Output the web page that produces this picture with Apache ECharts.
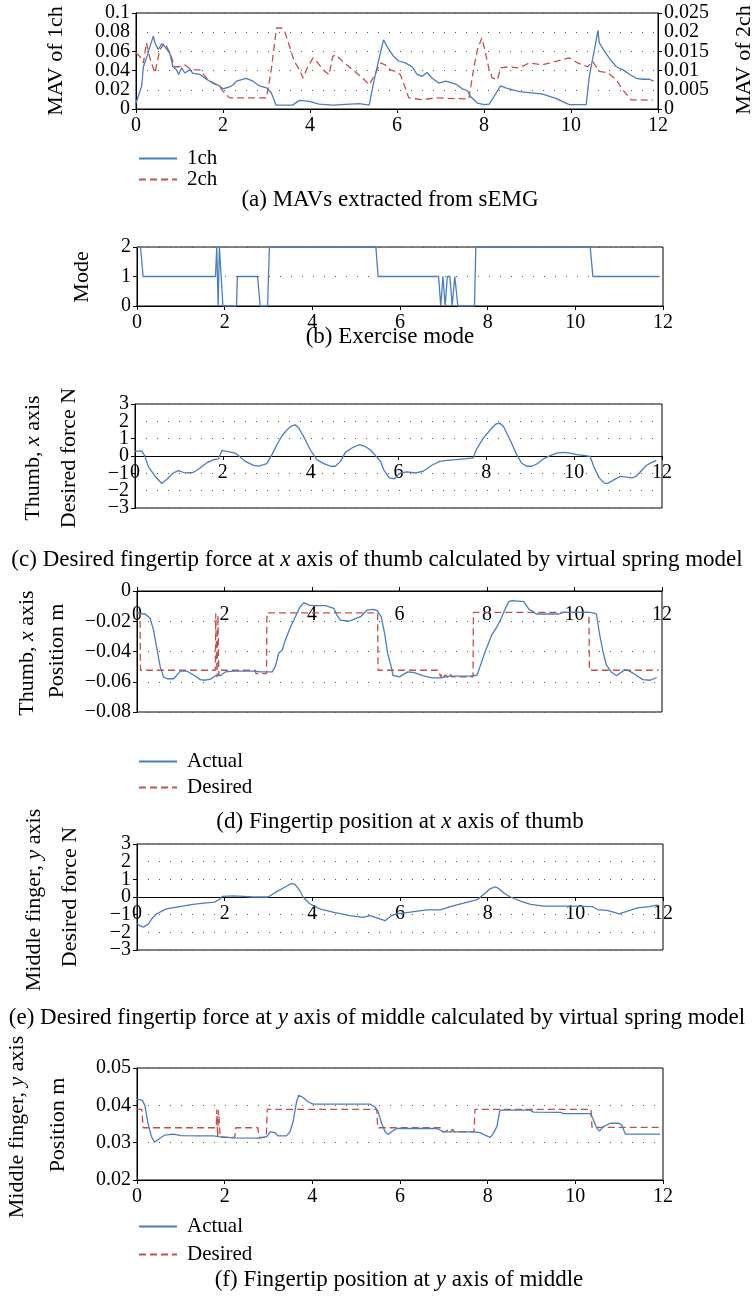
<!DOCTYPE html>
<html>
<head>
<meta charset="utf-8">
<script src="https://cdn.jsdelivr.net/npm/echarts@6/dist/echarts.min.js"></script>
<style>
html,body{margin:0;padding:0;background:#fff;}
#chart{width:755px;height:1297px;}
</style>
</head>
<body>
<div id="chart"></div>
<script>
// (a) MAV of channel 1 (left axis) and channel 2 (right axis)
var mav1ch = [[0,0.006],[0.05,0.013],[0.13,0.024],[0.17,0.044],[0.24,0.053],[0.32,0.065],[0.40,0.076],[0.435,0.069],[0.51,0.062],[0.59,0.068],[0.66,0.065],[0.70,0.067],[0.78,0.058],[0.85,0.044],[0.93,0.041],[0.98,0.036],[1.05,0.043],[1.12,0.0375],[1.24,0.041],[1.31,0.037],[1.47,0.036],[1.62,0.031],[1.77,0.027],[1.92,0.024],[2.0,0.021],[2.15,0.023],[2.23,0.025],[2.31,0.029],[2.53,0.032],[2.69,0.029],[2.84,0.024],[3.0,0.022],[3.11,0.017],[3.22,0.004],[3.6,0.004],[3.76,0.009],[3.98,0.008],[4.21,0.005],[4.52,0.004],[5.13,0.0055],[5.36,0.004],[5.46,0.027],[5.58,0.051],[5.69,0.072],[5.73,0.070],[5.81,0.062],[5.85,0.064],[5.92,0.055],[6.04,0.050],[6.19,0.048],[6.35,0.044],[6.46,0.036],[6.58,0.034],[6.69,0.038],[6.81,0.032],[6.96,0.027],[7.12,0.029],[7.35,0.026],[7.5,0.021],[7.62,0.019],[7.69,0.013],[7.85,0.006],[8.0,0.0045],[8.12,0.005],[8.23,0.013],[8.38,0.024],[8.5,0.022],[8.58,0.021],[8.81,0.018],[9.04,0.017],[9.35,0.0156],[9.65,0.011],[9.96,0.0045],[10.35,0.0045],[10.42,0.034],[10.54,0.062],[10.62,0.082],[10.65,0.069],[10.77,0.060],[10.88,0.053],[11.04,0.044],[11.19,0.041],[11.35,0.036],[11.5,0.032],[11.65,0.031],[11.8,0.031],[11.9,0.029]];
var mav2ch = [[0,0.0146],[0.09,0.0137],[0.17,0.012],[0.24,0.0172],[0.32,0.0133],[0.435,0.0094],[0.55,0.0155],[0.66,0.0172],[0.78,0.0146],[0.89,0.011],[1.0,0.011],[1.12,0.0115],[1.27,0.0102],[1.47,0.0102],[1.62,0.0081],[1.77,0.0068],[1.92,0.0059],[2.0,0.0046],[2.15,0.0029],[3.0,0.0029],[3.11,0.0102],[3.23,0.0211],[3.34,0.0211],[3.42,0.0202],[3.53,0.0163],[3.64,0.0124],[3.76,0.0102],[3.84,0.0081],[3.95,0.0111],[4.07,0.0133],[4.18,0.012],[4.3,0.0102],[4.44,0.0089],[4.52,0.0137],[4.6,0.0141],[4.75,0.0124],[4.98,0.0102],[5.21,0.0081],[5.36,0.0063],[5.47,0.0085],[5.62,0.012],[5.73,0.0115],[5.85,0.0102],[5.96,0.0098],[6.08,0.0089],[6.15,0.0068],[6.27,0.0029],[6.58,0.0024],[6.88,0.0029],[7.65,0.0026],[7.77,0.011],[7.85,0.0155],[7.95,0.0185],[8.0,0.0163],[8.12,0.0102],[8.19,0.0081],[8.31,0.0076],[8.38,0.0107],[8.58,0.011],[8.81,0.0107],[9.04,0.012],[9.35,0.0115],[9.65,0.0124],[9.96,0.0133],[10.15,0.012],[10.38,0.011],[10.5,0.0124],[10.65,0.0098],[10.85,0.0094],[11.04,0.0076],[11.19,0.005],[11.38,0.0024],[11.88,0.0023]];

// (b) exercise mode
var modeData = [[0,2],[0.08,2],[0.14,1],[1.79,1],[1.82,2],[1.85,0],[1.88,2],[1.92,2],[1.96,0],[2.27,0],[2.29,1],[2.75,1],[2.81,0],[2.98,0],[3.02,2],[5.45,2],[5.5,1],[6.88,1],[6.93,0],[6.98,1],[7.03,0],[7.08,1],[7.14,1],[7.19,0],[7.25,1],[7.28,1],[7.32,0],[7.7,0],[7.73,2],[10.34,2],[10.4,1],[11.92,1]];

// (c) desired force, thumb x axis
var forceThumb = [[0,0.27],[0.15,0.3],[0.23,-0.02],[0.3,-0.6],[0.46,-1.17],[0.61,-1.59],[0.72,-1.36],[0.87,-0.98],[0.99,-0.84],[1.14,-0.98],[1.33,-0.94],[1.48,-0.69],[1.63,-0.4],[1.79,-0.21],[1.9,-0.17],[1.98,0.33],[2.09,0.27],[2.28,0.17],[2.36,0.02],[2.51,-0.31],[2.7,-0.54],[2.81,-0.59],[2.93,-0.5],[3.0,-0.44],[3.12,0.08],[3.23,0.65],[3.35,1.17],[3.46,1.51],[3.57,1.74],[3.65,1.8],[3.73,1.6],[3.84,1.13],[3.99,0.36],[4.14,-0.21],[4.3,-0.44],[4.45,-0.59],[4.56,-0.59],[4.68,-0.31],[4.79,0.21],[4.94,0.46],[5.1,0.65],[5.21,0.59],[5.36,0.36],[5.5,-0.05],[5.59,-0.3],[5.66,-0.78],[5.79,-1.26],[5.91,-1.32],[6.02,-1.01],[6.18,-0.92],[6.4,-0.98],[6.56,-0.88],[6.75,-0.55],[6.94,-0.31],[7.09,-0.25],[7.32,-0.21],[7.55,-0.15],[7.7,-0.11],[7.77,0.36],[7.93,1.03],[8.09,1.51],[8.22,1.85],[8.31,1.89],[8.39,1.7],[8.54,0.94],[8.69,0.08],[8.8,-0.4],[8.92,-0.59],[9.03,-0.59],[9.15,-0.46],[9.3,-0.17],[9.45,0.02],[9.6,0.17],[9.75,0.21],[9.91,0.17],[10.06,0.08],[10.25,0.02],[10.36,-0.02],[10.46,-0.69],[10.57,-1.26],[10.68,-1.55],[10.76,-1.59],[10.91,-1.36],[11.06,-1.17],[11.18,-1.22],[11.33,-1.26],[11.41,-1.17],[11.52,-0.88],[11.64,-0.55],[11.75,-0.4],[11.87,-0.25]];

// (d) fingertip position, thumb x axis
var thumbActual = [[0,-0.0148],[0.19,-0.0152],[0.3,-0.018],[0.38,-0.026],[0.46,-0.039],[0.53,-0.05],[0.61,-0.057],[0.69,-0.058],[0.84,-0.058],[0.99,-0.053],[1.14,-0.053],[1.3,-0.0557],[1.45,-0.0586],[1.56,-0.059],[1.68,-0.0583],[1.79,-0.056],[1.9,-0.056],[2.02,-0.0535],[2.21,-0.053],[2.67,-0.053],[2.82,-0.0535],[3.09,-0.0535],[3.16,-0.050],[3.24,-0.041],[3.32,-0.039],[3.39,-0.0325],[3.51,-0.0236],[3.62,-0.017],[3.73,-0.0104],[3.81,-0.0077],[3.93,-0.0093],[4.04,-0.0097],[4.31,-0.0097],[4.5,-0.0115],[4.57,-0.016],[4.65,-0.0192],[4.84,-0.02],[4.95,-0.0188],[5.11,-0.017],[5.26,-0.0126],[5.41,-0.0122],[5.49,-0.013],[5.58,-0.017],[5.66,-0.028],[5.73,-0.0413],[5.81,-0.05],[5.85,-0.0557],[6.0,-0.0568],[6.19,-0.0535],[6.34,-0.054],[6.53,-0.056],[6.74,-0.0575],[6.95,-0.0575],[7.14,-0.0563],[7.6,-0.0563],[7.77,-0.0557],[7.84,-0.050],[7.96,-0.040],[8.11,-0.029],[8.23,-0.0236],[8.34,-0.017],[8.42,-0.0115],[8.5,-0.007],[8.57,-0.0064],[8.84,-0.007],[8.96,-0.0122],[9.04,-0.0133],[9.12,-0.0152],[9.64,-0.0152],[9.75,-0.0141],[10.36,-0.0141],[10.5,-0.0152],[10.57,-0.028],[10.65,-0.040],[10.73,-0.049],[10.84,-0.0535],[10.96,-0.056],[11.15,-0.052],[11.26,-0.053],[11.41,-0.0557],[11.56,-0.0586],[11.73,-0.059],[11.88,-0.0572]];
var thumbDesired = [[0,-0.0144],[0.07,-0.0144],[0.08,-0.0524],[1.79,-0.0524],[1.8,-0.0148],[1.82,-0.0148],[1.83,-0.057],[1.85,-0.016],[1.87,-0.056],[1.9,-0.0524],[2.7,-0.0524],[2.72,-0.0546],[2.96,-0.0546],[2.97,-0.0144],[5.5,-0.0144],[5.51,-0.0524],[6.9,-0.0524],[6.94,-0.057],[6.97,-0.055],[7.0,-0.057],[7.05,-0.0555],[7.1,-0.057],[7.15,-0.0545],[7.2,-0.0568],[7.68,-0.0568],[7.69,-0.0141],[10.33,-0.0141],[10.34,-0.0524],[11.92,-0.0524]];

// (e) desired force, middle finger y axis
var forceMiddle = [[0,-1.5],[0.06,-1.62],[0.15,-1.7],[0.25,-1.55],[0.35,-1.2],[0.44,-0.96],[0.67,-0.67],[0.97,-0.54],[1.28,-0.42],[1.58,-0.33],[1.77,-0.29],[1.89,-0.13],[1.95,0.04],[2.19,0.06],[2.42,0.04],[2.65,0],[2.99,0],[3.18,0.29],[3.41,0.61],[3.52,0.76],[3.6,0.73],[3.71,0.38],[3.79,0],[3.94,-0.38],[4.17,-0.67],[4.47,-0.86],[4.85,-1.05],[5.16,-1.15],[5.31,-1.05],[5.54,-1.24],[5.66,-1.34],[5.81,-1.05],[5.92,-0.96],[6.23,-0.86],[6.61,-0.73],[6.92,-0.73],[7.15,-0.54],[7.45,-0.34],[7.76,-0.15],[7.95,0.23],[8.06,0.48],[8.18,0.57],[8.25,0.48],[8.37,0.23],[8.52,0],[8.75,-0.23],[8.98,-0.42],[9.28,-0.52],[9.89,-0.52],[10.39,-0.54],[10.5,-0.71],[10.73,-0.76],[11.0,-0.96],[11.19,-0.8],[11.42,-0.61],[11.69,-0.54],[11.88,-0.44]];

// (f) fingertip position, middle finger y axis
var middleActual = [[0,0.0416],[0.12,0.0414],[0.18,0.040],[0.25,0.0352],[0.33,0.0316],[0.4,0.0301],[0.52,0.0312],[0.63,0.032],[0.82,0.0323],[1.01,0.0319],[1.43,0.0318],[1.74,0.0318],[1.89,0.0316],[2.19,0.0313],[2.8,0.0312],[2.96,0.0316],[3.04,0.0329],[3.15,0.0327],[3.22,0.0318],[3.41,0.0318],[3.49,0.0329],[3.56,0.0356],[3.64,0.0409],[3.69,0.0427],[3.79,0.0421],[3.91,0.0409],[4.02,0.0403],[5.32,0.0403],[5.43,0.0396],[5.5,0.0383],[5.58,0.0352],[5.66,0.0329],[5.73,0.0322],[5.81,0.0329],[5.92,0.0338],[6.84,0.0338],[6.91,0.0334],[6.99,0.0329],[7.68,0.0329],[7.83,0.0327],[7.94,0.032],[8.06,0.0314],[8.13,0.0325],[8.21,0.0343],[8.28,0.0387],[8.97,0.0387],[9.05,0.0382],[9.66,0.0381],[9.73,0.0378],[10.34,0.0378],[10.4,0.0365],[10.48,0.0341],[10.55,0.0331],[10.64,0.0343],[10.8,0.0352],[10.99,0.0352],[11.06,0.0347],[11.14,0.0323],[11.93,0.0323]];
var middleDesired = [[0,0.0389],[0.11,0.0389],[0.14,0.034],[1.81,0.034],[1.82,0.0389],[1.84,0.0314],[1.86,0.0387],[1.88,0.0385],[1.9,0.0314],[2.23,0.0314],[2.25,0.034],[2.76,0.034],[2.78,0.0314],[2.95,0.0314],[2.97,0.0389],[5.47,0.0389],[5.49,0.034],[6.95,0.034],[6.97,0.0329],[7.0,0.0334],[7.05,0.033],[7.1,0.0336],[7.15,0.033],[7.2,0.0336],[7.25,0.0329],[7.69,0.0329],[7.71,0.0389],[10.36,0.0389],[10.38,0.0341],[11.93,0.0341]];

var captions = [
  '(a) MAVs extracted from sEMG',
  '(b) Exercise mode',
  '(c) Desired fingertip force at {i|x} axis of thumb calculated by virtual spring model',
  '(d) Fingertip position at {i|x} axis of thumb',
  '(e) Desired fingertip force at {i|y} axis of middle calculated by virtual spring model',
  '(f) Fingertip position at {i|y} axis of middle'
];

var FONT = 'Liberation Serif';
var TICK = 20;
var BLUE = '#4a7ebb', RED = '#c0504d';
var chart = echarts.init(document.getElementById('chart'));

function minus(v) { return String(v).replace('-', '\u2212'); }

function grid(left, top, width, height) {
  return { left: left, top: top, width: width, height: height, show: true,
    borderColor: '#000', borderWidth: 1, backgroundColor: 'transparent' };
}

function xAx(g, extra) {
  return Object.assign({
    type: 'value', gridIndex: g, min: 0, max: 12, interval: 2,
    axisLine: { onZero: false, lineStyle: { color: '#000', width: 1 } },
    axisTick: { length: 4, lineStyle: { color: '#000' } },
    axisLabel: { color: '#000', fontFamily: FONT, fontSize: TICK, margin: 7 },
    splitLine: { show: false }
  }, extra || {});
}

function yAx(g, min, max, step, extra) {
  return Object.assign({
    type: 'value', gridIndex: g, position: 'left', min: min, max: max, interval: step,
    axisLine: { show: true, onZero: false, lineStyle: { color: '#000', width: 1 } },
    axisTick: { show: true, length: 4, lineStyle: { color: '#000' } },
    axisLabel: { color: '#000', fontFamily: FONT, fontSize: TICK, margin: 6,
      showMinLabel: true, showMaxLabel: true, formatter: minus },
    splitLine: { show: true, lineStyle: { color: '#555', width: 1, type: [1, 10] } }
  }, extra || {});
}

// closely spaced labels: ECharts drops the 2nd and 2nd-last ones, so a bare
// companion axis on the same grid prints just those two
function yFill(base) {
  var n = Math.round((base.max - base.min) / base.interval) + 1;
  return {
    type: 'value', gridIndex: base.gridIndex, position: base.position,
    min: base.min, max: base.max, interval: base.interval,
    axisLine: { show: false, onZero: false }, axisTick: { show: false }, splitLine: { show: false },
    axisLabel: { color: '#000', fontFamily: FONT, fontSize: TICK, margin: 6,
      formatter: function (v, i) { return (i === 1 || i === n - 2) ? minus(v) : ''; } }
  };
}

function line(name, data, xi, yi, color, dashed) {
  return {
    name: name, type: 'line', data: data, xAxisIndex: xi, yAxisIndex: yi,
    symbol: 'none', animation: false, z: dashed ? 3 : 4,
    lineStyle: { color: color, width: 1.3, type: dashed ? [7, 4] : 'solid' },
    itemStyle: { color: color }
  };
}

function vtext(x, y, text) {
  return {
    type: 'text', x: x, y: y, rotation: Math.PI / 2, z: 10,
    style: { text: text, fill: '#000', fontFamily: FONT, fontSize: 22,
      align: 'center', verticalAlign: 'middle',
      rich: { i: { fontFamily: FONT, fontSize: 22, fontStyle: 'italic' } } }
  };
}

function htext(x, y, text) {
  return {
    type: 'text', x: x, y: y, z: 10,
    style: { text: text, fill: '#000', fontFamily: FONT, fontSize: 23,
      align: 'center', verticalAlign: 'middle',
      rich: { i: { fontFamily: FONT, fontSize: 23, fontStyle: 'italic' } } }
  };
}

function legend(top, gap, names) {
  return {
    data: names, left: 138, top: top, orient: 'vertical', padding: 0,
    itemGap: gap, itemWidth: 38, itemHeight: 14, selectedMode: false,
    itemStyle: { opacity: 0 },
    textStyle: { color: '#000', fontFamily: FONT, fontSize: 21, lineHeight: 18, padding: [0, 0, 0, 5] }
  };
}

var yA = yAx(0, 0, 0.1, 0.02);
var yA2 = yAx(0, 0, 0.025, 0.005, { position: 'right', splitLine: { show: false } });
var yC = yAx(2, -3, 3, 1);
var yE = yAx(4, -3, 3, 1);

chart.setOption({
  backgroundColor: '#fff',
  animation: false,
  grid: [
    grid(136, 13, 522, 96),
    grid(137, 247, 526, 59),
    grid(135, 404, 527, 104),
    grid(137, 591, 525, 121),
    grid(137, 844, 526, 106),
    grid(137, 1068, 526, 112)
  ],
  xAxis: [
    xAx(0),
    xAx(1),
    xAx(2, { offset: -52 }),
    xAx(3, { position: 'top', axisLabel: { color: '#000', fontFamily: FONT, fontSize: TICK, margin: 14, inside: true } }),
    xAx(4, { offset: -53 }),
    xAx(5)
  ],
  yAxis: [
    yA,
    yA2,
    yAx(1, 0, 2, 1),
    yC,
    yAx(3, -0.08, 0, 0.02),
    yE,
    yAx(5, 0.02, 0.05, 0.01),
    yFill(yA), yFill(yA2), yFill(yC), yFill(yE)
  ],
  legend: [
    legend(148, 0, ['1ch', '2ch']),
    legend(751, 5, ['Actual', 'Desired']),
    legend(1216, 7, ['Actual', 'Desired'])
  ],
  series: [
    line('1ch', mav1ch, 0, 0, BLUE, false),
    line('2ch', mav2ch, 0, 1, RED, true),
    line('Mode', modeData, 1, 2, BLUE, false),
    line('Force x', forceThumb, 2, 3, BLUE, false),
    line('Desired', thumbDesired, 3, 4, RED, true),
    line('Actual', thumbActual, 3, 4, BLUE, false),
    line('Force y', forceMiddle, 4, 5, BLUE, false),
    line('Desired', middleDesired, 5, 6, RED, true),
    line('Actual', middleActual, 5, 6, BLUE, false)
  ],
  graphic: [
    vtext(56, 61, 'MAV of 1ch'),
    vtext(744, 60, 'MAV of 2ch'),
    htext(390, 200, captions[0]),
    vtext(82, 277, 'Mode'),
    htext(390, 337, captions[1]),
    vtext(33, 458, 'Thumb, {i|x} axis'),
    vtext(69, 458, 'Desired force N'),
    htext(377, 560, captions[2]),
    vtext(27, 653, 'Thumb, {i|x} axis'),
    vtext(57, 651, 'Position m'),
    htext(400, 822, captions[3]),
    vtext(34, 900, 'Middle finger, {i|y} axis'),
    vtext(70, 897, 'Desired force N'),
    htext(377, 1018, captions[4]),
    vtext(17, 1127, 'Middle finger, {i|y} axis'),
    vtext(58, 1125, 'Position m'),
    htext(399, 1280, captions[5])
  ]
});
</script>
</body>
</html>
